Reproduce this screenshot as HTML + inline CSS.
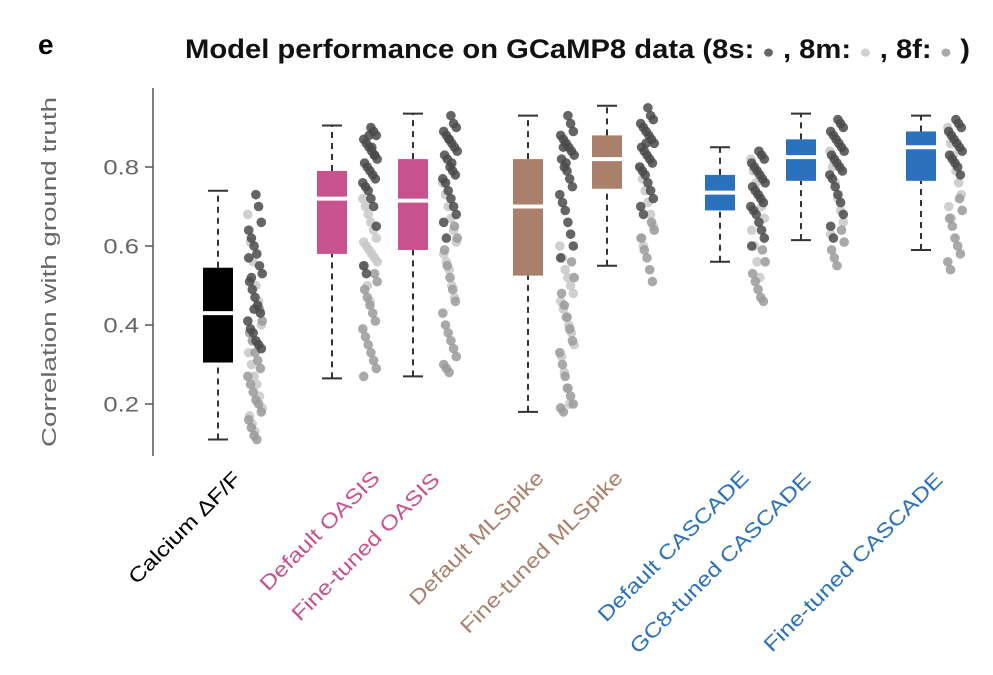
<!DOCTYPE html>
<html><head><meta charset="utf-8"><style>
body{margin:0;background:#fff}
svg{display:block;font-family:"Liberation Sans",sans-serif}
</style></head><body>
<svg id="chart" width="993" height="675" viewBox="0 0 993 675">
<text x="38" y="54" font-size="28" font-weight="bold">e</text>
<text x="185" y="58" font-size="27" font-weight="bold" fill="#111" textLength="785" lengthAdjust="spacingAndGlyphs">Model performance on GCaMP8 data (8s: <tspan fill="#666" font-size="19">●</tspan> , 8m:  <tspan fill="#d0d0d0" font-size="19">●</tspan> , 8f: <tspan fill="#aaa" font-size="19">●</tspan> )</text>
<line x1="153" y1="88" x2="153" y2="456" stroke="#555" stroke-width="1.5"/>
<text transform="translate(56,272) rotate(-90)" text-anchor="middle" font-size="20" fill="#666" textLength="350" lengthAdjust="spacingAndGlyphs">Correlation with ground truth</text>
<g id="ticks"></g><g id="marks"></g><g id="labels"></g>
</svg>
<script>
const tickVals=[0.2,0.4,0.6,0.8];
const tickLabels=["0.2","0.4","0.6","0.8"];
const categories=["Calcium ΔF/F","Default OASIS","Fine-tuned OASIS","Default MLSpike","Fine-tuned MLSpike","Default CASCADE","GC8-tuned CASCADE","Fine-tuned CASCADE"];
const colors=["#000","#c8528e","#c8528e","#a8806b","#a8806b","#2b71bb","#2b71bb","#2b71bb"];
const boxCenters=[218,332,413,528,607,720,801,921];
const whiskerLow=[0.11,0.265,0.27,0.18,0.55,0.56,0.615,0.59];
const q1=[0.305,0.58,0.59,0.525,0.745,0.69,0.765,0.765];
const medians=[0.43,0.72,0.715,0.70,0.82,0.735,0.825,0.85];
const q3=[0.545,0.79,0.82,0.82,0.88,0.78,0.87,0.89];
const whiskerHigh=[0.74,0.905,0.935,0.93,0.955,0.85,0.935,0.93];
const dots8s=[
[0.73,0.70,0.66,0.64,0.62,0.60,0.58,0.55,0.53,0.51,0.49,0.47,0.45,0.43,0.41,0.39,0.38,0.36,0.35,0.34,0.57,0.52,0.44],
[0.90,0.89,0.88,0.87,0.86,0.85,0.84,0.83,0.82,0.81,0.80,0.79,0.78,0.77,0.76,0.75,0.74,0.72,0.70,0.65,0.55,0.53,0.88,0.85,0.83],
[0.93,0.91,0.90,0.89,0.88,0.87,0.86,0.85,0.84,0.83,0.82,0.80,0.79,0.78,0.77,0.76,0.74,0.72,0.70,0.68,0.66,0.62,0.87,0.81],
[0.93,0.91,0.89,0.88,0.87,0.86,0.85,0.84,0.83,0.82,0.80,0.79,0.77,0.75,0.73,0.71,0.69,0.66,0.63,0.60,0.57,0.85,0.81],
[0.95,0.93,0.92,0.91,0.90,0.89,0.88,0.87,0.86,0.85,0.84,0.83,0.82,0.81,0.80,0.79,0.78,0.76,0.74,0.72,0.70,0.68,0.86],
[0.84,0.83,0.82,0.81,0.80,0.79,0.78,0.77,0.76,0.75,0.74,0.73,0.72,0.71,0.70,0.69,0.68,0.66,0.64,0.62,0.60],
[0.92,0.91,0.90,0.89,0.88,0.87,0.86,0.85,0.84,0.83,0.82,0.81,0.80,0.79,0.78,0.77,0.75,0.73,0.71,0.68,0.65,0.62],
[0.92,0.91,0.90,0.89,0.88,0.87,0.86,0.85,0.84,0.83,0.82,0.81,0.80,0.78]];
const dots8m=[
[0.68,0.61,0.56,0.50,0.46,0.40,0.33,0.30,0.27,0.25,0.22,0.19,0.17,0.15,0.13],
[0.72,0.70,0.68,0.66,0.64,0.62,0.61,0.60,0.59,0.58,0.57,0.56,0.55,0.50,0.46],
[0.76,0.73,0.70,0.67,0.64,0.61,0.58,0.56,0.54,0.50,0.47],
[0.60,0.57,0.54,0.52,0.50,0.48,0.46,0.44,0.42,0.40,0.38,0.35,0.32,0.28,0.24,0.20],
[0.80,0.77,0.74,0.71,0.68,0.65,0.62,0.60],
[0.82,0.79,0.76,0.73,0.70,0.67,0.64,0.60,0.56,0.52],
[0.84,0.80,0.76,0.72,0.69,0.66,0.63],
[0.90,0.86,0.83,0.79,0.76,0.73,0.70,0.67]];
const dots8f=[
[0.44,0.41,0.38,0.36,0.33,0.31,0.29,0.27,0.25,0.23,0.21,0.20,0.18,0.16,0.14,0.12,0.11],
[0.53,0.51,0.49,0.47,0.45,0.43,0.41,0.39,0.37,0.35,0.33,0.31,0.29,0.27],
[0.65,0.62,0.59,0.55,0.52,0.49,0.46,0.43,0.40,0.38,0.36,0.34,0.32,0.30,0.29,0.28],
[0.56,0.52,0.48,0.45,0.42,0.39,0.36,0.33,0.30,0.27,0.24,0.22,0.20,0.19,0.18],
[0.66,0.64,0.62,0.59,0.57,0.54,0.51],
[0.59,0.56,0.53,0.51,0.49,0.47,0.46],
[0.64,0.61,0.59,0.57,0.55],
[0.72,0.69,0.67,0.65,0.62,0.60,0.58,0.56,0.54]];
const NS="http://www.w3.org/2000/svg";
const yScale=v=>404-(v-0.2)*395;
const dotOffset=[37,38,37,39,40,38,36,34];
const labelEnd=[[242,480],[381,479],[441,481],[545,479],[624,479],[750,479],[812,481],[944,481]];
function mk(tag,attrs,parent){const e=document.createElementNS(NS,tag);for(const k in attrs)e.setAttribute(k,attrs[k]);parent.appendChild(e);return e;}
const tg=document.getElementById("ticks"),mg=document.getElementById("marks"),lg=document.getElementById("labels");
tickVals.forEach((v,i)=>{
 const y=yScale(v);
 const tk=mk("line",{x1:145,x2:153,y1:y,y2:y,stroke:"#555","stroke-width":1.5},tg);
 
 
 const t=mk("text",{transform:`translate(139,${y+7.5}) scale(1.22,1)`,"text-anchor":"end","font-size":21,fill:"#666"},tg);
 t.textContent=tickLabels[i];
 
 
});
categories.forEach((c,i)=>{
 const cx=boxCenters[i],col=colors[i];
 const g=mk("g",{},mg);
 
 
 mk("line",{x1:cx,x2:cx,y1:yScale(whiskerLow[i]),y2:yScale(q1[i]),stroke:"#333","stroke-width":2,"stroke-dasharray":"6,5"},g);
 mk("line",{x1:cx,x2:cx,y1:yScale(q3[i]),y2:yScale(whiskerHigh[i]),stroke:"#333","stroke-width":2,"stroke-dasharray":"6,5"},g);
 mk("line",{x1:cx-10,x2:cx+10,y1:yScale(whiskerLow[i]),y2:yScale(whiskerLow[i]),stroke:"#333","stroke-width":2},g);
 mk("line",{x1:cx-10,x2:cx+10,y1:yScale(whiskerHigh[i]),y2:yScale(whiskerHigh[i]),stroke:"#333","stroke-width":2},g);
 const b=mk("rect",{x:cx-15,y:yScale(q3[i]),width:30,height:yScale(q1[i])-yScale(q3[i]),fill:col},g);
 
 
 const m=mk("line",{x1:cx-15,x2:cx+15,y1:yScale(medians[i]),y2:yScale(medians[i]),stroke:"#fff","stroke-width":4},g);
 
 
 const dx=cx+dotOffset[i];
 const sets=[[dots8m[i],"#c8c8c8"],[dots8f[i],"#9a9a9a"],[dots8s[i],"#4a4a4a"]];
 sets.forEach(([arr,fc],si)=>arr.forEach((v,j)=>{
  const jit=(((j*37+si*13)%17)-8)*0.9;
  const d=mk("circle",{cx:dx+jit,cy:yScale(v),r:4.8,fill:fc,"fill-opacity":0.85},g);
  
  
 }));
 const t=mk("text",{transform:`translate(${labelEnd[i][0]},${labelEnd[i][1]}) rotate(-45) scale(1.2,1)`,"text-anchor":"end","font-size":20.5,fill:col},lg);
 t.textContent=c;
 
 
});
</script>
</body></html>
